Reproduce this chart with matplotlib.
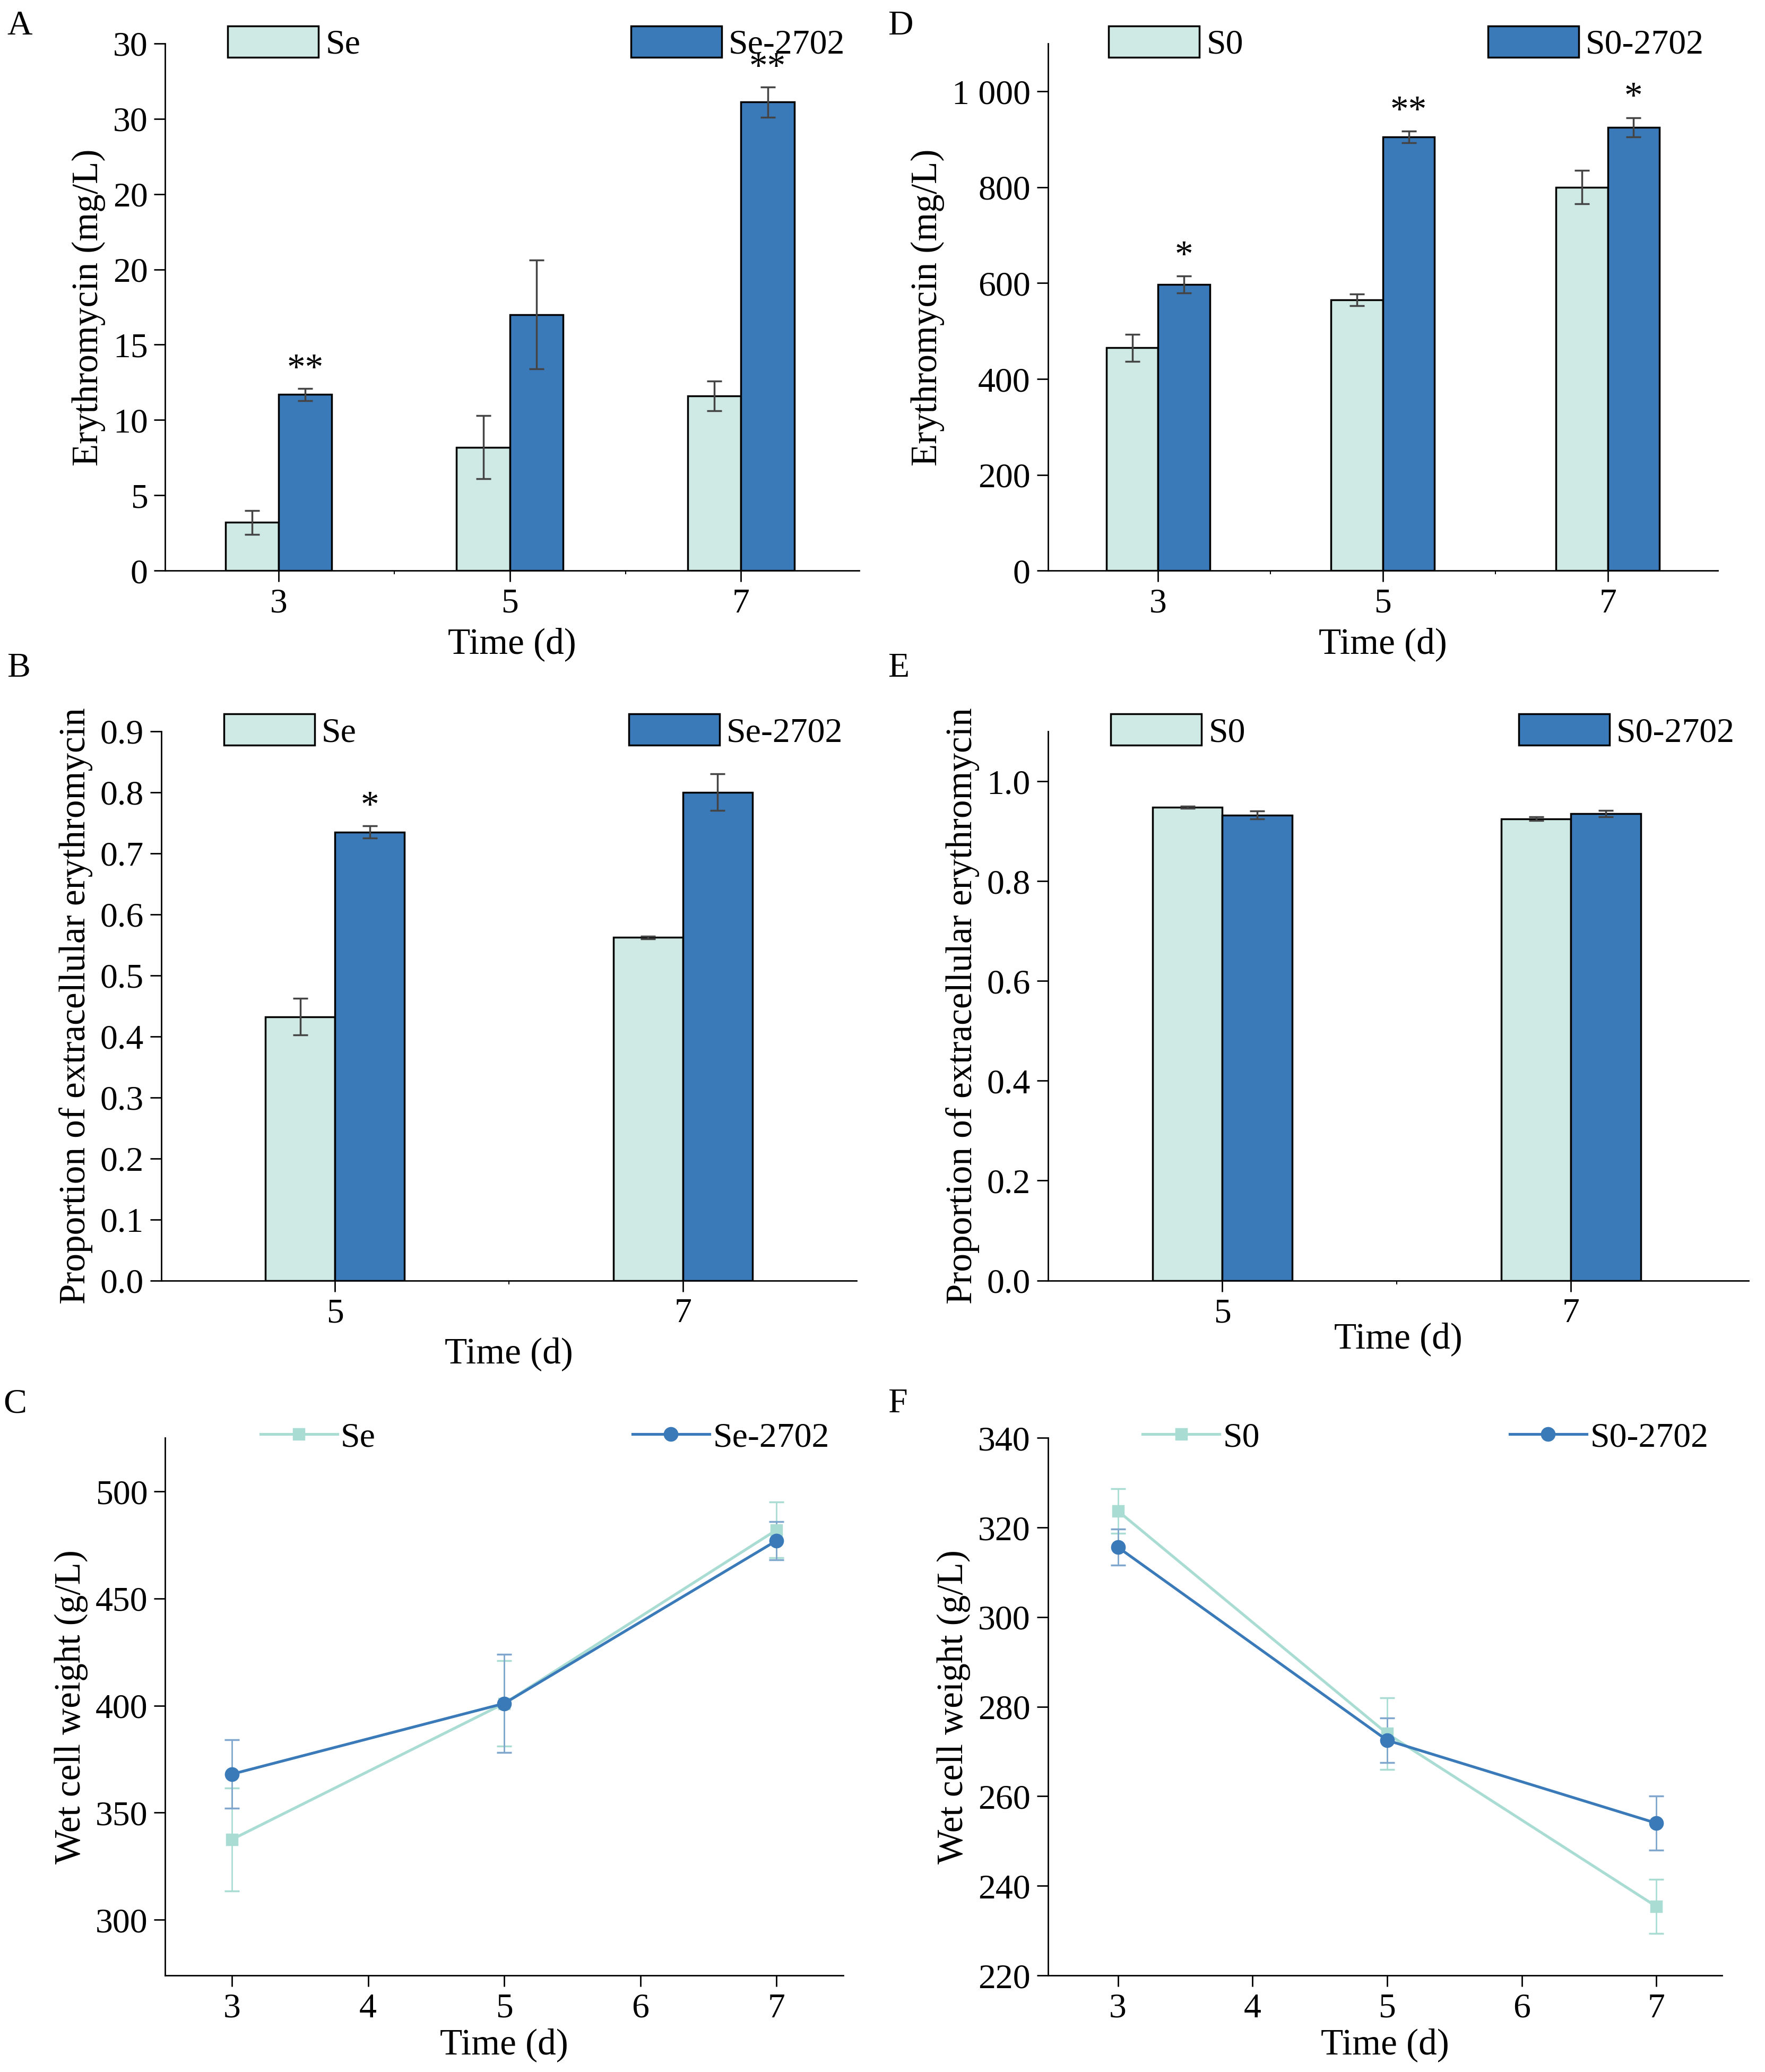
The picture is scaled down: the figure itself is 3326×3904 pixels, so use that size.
import matplotlib
matplotlib.use("Agg")
import matplotlib.pyplot as plt
from matplotlib.patches import Patch
from matplotlib.lines import Line2D
import numpy as np

plt.rcParams['font.family'] = ['Liberation Serif', 'DejaVu Serif']
plt.rcParams['mathtext.fontset'] = 'custom'
plt.rcParams['font.size'] = 17

LIGHT = "#cfe9e4"
DARK = "#3a7ab8"

# panel A
a_days = ["3", "5", "7"]
a_se = [3.2, 8.2, 11.6]
a_se_err = [0.8, 2.1, 1.0]
a_mut = [11.7, 17.0, 31.1]
a_mut_err = [0.4, 3.6, 1.0]
a_sig = ["**", "", "**"]
a_ticklabels = ["0", "5", "10", "15", "20", "20", "30", "30"]

# panel D
d_days = ["3", "5", "7"]
d_s0 = [465, 565, 800]
d_s0_err = [28, 12, 35]
d_mut = [597, 905, 925]
d_mut_err = [18, 12, 20]
d_sig = ["*", "**", "*"]

# panel B
b_days = ["5", "7"]
b_se = [0.432, 0.562]
b_se_err = [0.03, 0.002]
b_mut = [0.735, 0.80]
b_mut_err = [0.01, 0.03]
b_sig = ["*", ""]

# panel E
e_days = ["5", "7"]
e_s0 = [0.948, 0.925]
e_s0_err = [0.002, 0.004]
e_mut = [0.932, 0.935]
e_mut_err = [0.008, 0.006]

# panel C
c_days = [3, 5, 7]
c_se = [337.5, 401, 482]
c_se_err = [24, 20, 13]
c_mut = [368, 401, 477]
c_mut_err = [16, 23, 9]

# panel F
f_days = [3, 5, 7]
f_s0 = [323.7, 274, 235.4]
f_s0_err = [5, 8, 6]
f_mut = [315.6, 272.5, 254]
f_mut_err = [4, 5, 6]

fig = plt.figure(figsize=(13.36, 15.68), dpi=249)


def style(ax):
    for s in ["top", "right"]:
        ax.spines[s].set_visible(False)
    ax.tick_params(direction="out", length=6)


def bar_legend(ax, l1, l2, y=1.0):
    h1 = Patch(facecolor=LIGHT, edgecolor="black", label=l1)
    h2 = Patch(facecolor=DARK, edgecolor="black", label=l2)
    lg = ax.legend(handles=[h1], loc="center left", bbox_to_anchor=(0.07, y), frameon=False,
                   handlelength=2.6, handleheight=1.0, fontsize=19, borderaxespad=0, handletextpad=0.2)
    ax.add_artist(lg)
    ax.legend(handles=[h2], loc="center right", bbox_to_anchor=(1.0, y), frameon=False,
              handlelength=2.6, handleheight=1.0, fontsize=19, borderaxespad=0, handletextpad=0.2)


def bars(ax, labels, v1, e1, v2, e2, w, sig=None, sig_off=0):
    x = np.arange(len(labels))
    kw = dict(edgecolor="black", linewidth=1, error_kw=dict(ecolor="#444444", elinewidth=1, capsize=4))
    ax.bar(x - w / 2, v1, w, yerr=e1, color=LIGHT, **kw)
    ax.bar(x + w / 2, v2, w, yerr=e2, color=DARK, **kw)
    if sig:
        for xi, v, e, s in zip(x, v2, e2, sig):
            if s:
                ax.text(xi + w / 2, v + e + sig_off, s, ha="center", va="bottom", fontsize=20)
    ax.set_xticks(x)
    ax.set_xticklabels(labels, fontsize=19)
    ax.set_xticks(x[:-1] + 0.5, minor=True)
    ax.set_xlabel("Time (d)", fontsize=20)
    style(ax)


# A
ax = fig.add_axes([0.0936, 0.7245, 0.393, 0.2545])
bars(ax, a_days, a_se, a_se_err, a_mut, a_mut_err, 0.23, a_sig, 0.1)
ax.set_xlim(-0.49, 2.51)
ax.set_ylim(0, 35)
ax.set_yticks(np.arange(0, 36, 5))
ax.set_yticklabels(a_ticklabels, fontsize=19)
ax.set_ylabel("Erythromycin (mg/L)", fontsize=20)
bar_legend(ax, "Se", "Se-2702")

# D
ax = fig.add_axes([0.5936, 0.7245, 0.3795, 0.2545])
bars(ax, d_days, d_s0, d_s0_err, d_mut, d_mut_err, 0.23, d_sig, 5)
ax.set_xlim(-0.49, 2.49)
ax.set_ylim(0, 1100)
ax.set_yticks(np.arange(0, 1001, 200))
ax.set_yticklabels(["0", "200", "400", "600", "800", "1 000"], fontsize=19)
ax.set_ylabel("Erythromycin (mg/L)", fontsize=20)
bar_legend(ax, "S0", "S0-2702")

# B
ax = fig.add_axes([0.0913, 0.382, 0.394, 0.265])
bars(ax, b_days, b_se, b_se_err, b_mut, b_mut_err, 0.2, b_sig, 0.003)
ax.set_xlim(-0.5, 1.5)
ax.set_ylim(0, 0.9)
ax.set_yticks(np.arange(0, 0.91, 0.1))
ax.set_yticklabels([f"{v:.1f}" for v in np.arange(0, 0.91, 0.1)], fontsize=19)
ax.set_ylabel("Proportion of extracellular erythromycin", fontsize=20)
bar_legend(ax, "Se", "Se-2702", y=1.0)

# E
ax = fig.add_axes([0.5936, 0.382, 0.397, 0.265])
bars(ax, e_days, e_s0, e_s0_err, e_mut, e_mut_err, 0.2)
ax.set_xlim(-0.5, 1.51)
ax.set_ylim(0, 1.1)
ax.set_yticks(np.arange(0, 1.01, 0.2))
ax.set_yticklabels([f"{v:.1f}" for v in np.arange(0, 1.01, 0.2)], fontsize=19)
ax.set_ylabel("Proportion of extracellular erythromycin", fontsize=20)
ax.xaxis.labelpad = -4
bar_legend(ax, "S0", "S0-2702", y=1.0)


def lines(ax, x, v1, e1, v2, e2, l1, l2):
    ax.errorbar(x, v1, yerr=e1, color="#a9dcd3", marker="s", ms=6, lw=1.5, capsize=4, elinewidth=0.8)
    ax.errorbar(x, v2, yerr=e2, color=DARK, marker="o", ms=7, lw=1.5, capsize=4, elinewidth=0.8,
                ecolor="#7fa6cc")
    h1 = Line2D([], [], color="#a9dcd3", marker="s", ms=6, lw=1.5, label=l1)
    h2 = Line2D([], [], color=DARK, marker="o", ms=7, lw=1.5, label=l2)
    lg = ax.legend(handles=[h1], loc="center left", bbox_to_anchor=(0.12, 1.0), frameon=False,
                   fontsize=19, borderaxespad=0, handlelength=2.2, handletextpad=0.1)
    ax.add_artist(lg)
    ax.legend(handles=[h2], loc="center right", bbox_to_anchor=(1.0, 1.0), frameon=False,
              fontsize=19, borderaxespad=0, handlelength=2.2, handletextpad=0.1)
    ax.set_xticks([3, 4, 5, 6, 7])
    ax.tick_params(labelsize=19)
    ax.set_xlabel("Time (d)", fontsize=20, labelpad=2)
    ax.set_ylabel("Wet cell weight (g/L)", fontsize=20)
    style(ax)


# C
ax = fig.add_axes([0.0936, 0.0466, 0.384, 0.2594])
lines(ax, c_days, c_se, c_se_err, c_mut, c_mut_err, "Se", "Se-2702")
ax.set_xlim(2.51, 7.49)
ax.set_ylim(274, 525)
ax.set_yticks([300, 350, 400, 450, 500])

# F
ax = fig.add_axes([0.5936, 0.0466, 0.382, 0.2594])
lines(ax, f_days, f_s0, f_s0_err, f_mut, f_mut_err, "S0", "S0-2702")
ax.set_xlim(2.48, 7.49)
ax.set_ylim(220, 340)
ax.set_yticks(np.arange(220, 341, 20))

for lab, x, y in [("A", 0.004, 0.995), ("D", 0.503, 0.995), ("B", 0.004, 0.685),
                  ("E", 0.503, 0.685), ("C", 0.002, 0.33), ("F", 0.503, 0.33)]:
    fig.text(x, y, lab, fontsize=19, va="top")

fig.savefig("out.png", dpi=249)
